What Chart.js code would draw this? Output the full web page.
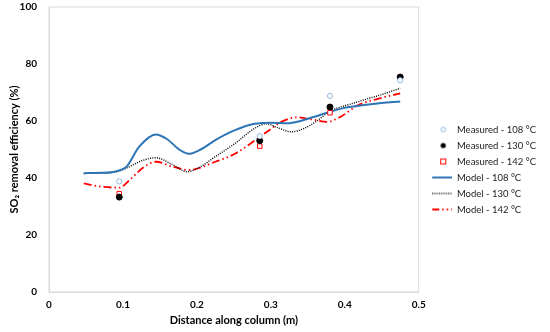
<!DOCTYPE html>
<html>
<head>
<meta charset="utf-8">
<script src="https://cdn.jsdelivr.net/npm/chart.js@4/dist/chart.umd.min.js"></script>
<style>
  html, body { margin: 0; padding: 0; background: #fff; }
  #wrap { width: 550px; height: 332px; }
</style>
</head>
<body>
<div id="wrap"><canvas id="c"></canvas></div>
<script>
// measured points
const measX = [0.095, 0.285, 0.38, 0.475]
const meas108 = [38.8, 54.7, 68.8, 74.3]
const meas130 = [33.3, 53.1, 64.9, 75.4]
const meas142 = [34.5, 51.2, 62.9, 75.4]

// model curves
const mod108X = [0.047, 0.07, 0.09, 0.105, 0.122, 0.1446, 0.16, 0.175, 0.189, 0.205, 0.225, 0.25, 0.278, 0.3, 0.323, 0.34, 0.359, 0.381, 0.4, 0.426, 0.45, 0.475]
const mod108Y = [41.7, 41.8, 42.3, 44.0, 51.0, 55.3, 53.6, 50.2, 48.5, 50.0, 53.3, 56.6, 59.0, 59.4, 59.2, 60.0, 61.5, 63.3, 64.6, 65.6, 66.3, 66.8]
const mod130X = [0.047, 0.07, 0.091, 0.104, 0.125, 0.1446, 0.165, 0.187, 0.205, 0.225, 0.252, 0.278, 0.294, 0.31, 0.327, 0.345, 0.36, 0.381, 0.405, 0.426, 0.45, 0.475]
const mod130Y = [41.6, 41.7, 42.2, 43.4, 46.0, 47.1, 45.0, 42.2, 44.0, 47.5, 52.2, 57.4, 59.0, 57.6, 56.2, 57.4, 59.6, 63.6, 65.7, 67.4, 69.3, 71.5]
const mod142X = [0.047, 0.07, 0.095, 0.109, 0.128, 0.1446, 0.167, 0.189, 0.225, 0.252, 0.283, 0.3, 0.314, 0.336, 0.355, 0.376, 0.395, 0.417, 0.445, 0.475]
const mod142Y = [38.1, 37.0, 36.6, 39.3, 43.8, 45.7, 44.0, 42.8, 45.7, 48.6, 54.0, 57.2, 59.7, 61.3, 60.6, 59.7, 61.6, 65.4, 67.8, 69.7]

const labels = ['Measured - 108 °C', 'Measured - 130 °C', 'Measured - 142 °C', 'Model - 108 °C', 'Model - 130 °C', 'Model - 142 °C']
const xTicks = [0, 0.1, 0.2, 0.3, 0.4, 0.5]
const yTicks = [0, 20, 40, 60, 80, 100]

const BLUE = '#2E75B6', LBLUE = '#8FB8E3', RED = '#FF0000'
const pts = (xs, ys) => xs.map((x, i) => ({ x, y: ys[i] }))

// small canvases for the legend icons, drawn in the right 20px
const IW = 27
icon = draw => {
    const c = document.createElement('canvas')
    c.width = IW; c.height = 8
    const g = c.getContext('2d')
    g.translate(IW - 20, 0)
    draw(g)
    return c
}
const icons = [
    icon(g => { g.strokeStyle = LBLUE; g.lineWidth = 1; g.beginPath(); g.arc(11, 4, 2.3, 0, 7); g.stroke() }),
    icon(g => { g.fillStyle = '#000'; g.beginPath(); g.arc(11, 4, 2.6, 0, 7); g.fill() }),
    icon(g => { g.strokeStyle = RED; g.lineWidth = 1; g.strokeRect(8.5, 1.5, 5, 5) }),
    icon(g => { g.strokeStyle = BLUE; g.lineWidth = 2; g.beginPath(); g.moveTo(0, 4); g.lineTo(20, 4); g.stroke() }),
    icon(g => { g.strokeStyle = '#000'; g.lineWidth = 1.3; g.setLineDash([1, 1.3]); g.beginPath(); g.moveTo(0, 4); g.lineTo(20, 4); g.stroke() }),
    icon(g => { g.strokeStyle = RED; g.lineWidth = 1.8; g.setLineDash([7, 3, 1.5, 3, 1.5, 3]); g.beginPath(); g.moveTo(0, 4); g.lineTo(20, 4); g.stroke() })
]

const frame = {
    id: 'frame',
    beforeDatasetsDraw(chart) {
        const a = chart.chartArea, g = chart.ctx
        g.save(); g.strokeStyle = '#D9D9D9'; g.lineWidth = 1
        g.strokeRect(a.left, a.top, a.right - a.left, a.bottom - a.top)
        g.restore()
    }
}

Chart.defaults.font.family = 'Lato, "Open Sans", sans-serif'
Chart.defaults.color = '#000'

new Chart(document.getElementById('c'), {
    type: 'scatter',
    data: { datasets: [
        { label: labels[0], data: pts(measX, meas108), pointStyle: 'circle', pointRadius: 2.6, borderColor: LBLUE, backgroundColor: '#fff', borderWidth: 1 },
        { label: labels[1], data: pts(measX, meas130), pointStyle: 'circle', pointRadius: 3, borderColor: '#000', backgroundColor: '#000', borderWidth: 1 },
        { label: labels[2], data: pts(measX, meas142), pointStyle: 'rect', pointRadius: 3.2, borderColor: RED, backgroundColor: '#fff', borderWidth: 1 },
        { label: labels[3], data: pts(mod108X, mod108Y), showLine: true, pointRadius: 0, borderColor: BLUE, borderWidth: 2, cubicInterpolationMode: 'monotone' },
        { label: labels[4], data: pts(mod130X, mod130Y), showLine: true, pointRadius: 0, borderColor: '#000', borderWidth: 1.4, borderDash: [1, 1.3], cubicInterpolationMode: 'monotone' },
        { label: labels[5], data: pts(mod142X, mod142Y), showLine: true, pointRadius: 0, borderColor: RED, borderWidth: 1.8, borderDash: [8, 3, 1.5, 3, 1.5, 3], cubicInterpolationMode: 'monotone' }
    ]},
    options: {
        responsive: true, maintainAspectRatio: false, animation: false,
        layout: { autoPadding: false, padding: { top: 7, right: 4, left: 8, bottom: 0 } },
        plugins: {
            tooltip: { enabled: false },
            legend: {
                position: 'right',
                labels: {
                    usePointStyle: true, pointStyleWidth: IW, boxHeight: 8, padding: 6.5,
                    color: '#222', font: { size: 9.5 },
                    generateLabels: chart => Chart.defaults.plugins.legend.labels.generateLabels(chart)
                        .map((l, i) => ({ ...l, pointStyle: icons[i], lineDash: [] }))
                }
            }
        },
        scales: {
            x: {
                type: 'linear', min: 0, max: 0.5,
                afterBuildTicks: s => { s.ticks = xTicks.map(v => ({ value: v })) },
                afterFit: s => { s.height = 40; s.paddingLeft = 0; s.paddingRight = 0 },
                ticks: { font: { size: 10, weight: 'bold' }, padding: 7 },
                grid: { display: false, drawTicks: false },
                border: { color: '#D9D9D9' },
                title: { display: true, text: 'Distance along column (m)', font: { size: 11, weight: 'bold' }, padding: { top: 3, bottom: 5 } }
            },
            y: {
                min: 0, max: 100,
                afterBuildTicks: s => { s.ticks = yTicks.map(v => ({ value: v })) },
                afterFit: s => { s.width = 41; s.paddingTop = 0; s.paddingBottom = 0 },
                ticks: { font: { size: 10, weight: 'bold' }, padding: 12 },
                grid: { display: false, drawTicks: false },
                border: { color: '#D9D9D9' },
                title: { display: true, text: 'SO₂ removal efficiency (%)', font: { size: 11, weight: 'bold' }, padding: { top: 0, bottom: 6 } }
            }
        }
    },
    plugins: [frame]
})
</script>
</body>
</html>
